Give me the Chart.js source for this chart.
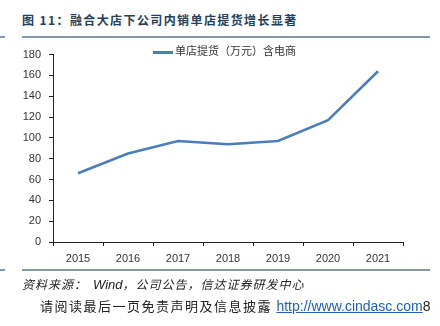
<!DOCTYPE html>
<html>
<head>
<meta charset="utf-8">
<script src="https://cdn.jsdelivr.net/npm/chart.js@4.4.0/dist/chart.umd.min.js"></script>
<style>
  body { margin: 0; width: 440px; height: 326px; background: #fff; position: relative; overflow: hidden;
         font-family: "Liberation Sans", "Noto Sans CJK SC", sans-serif; }
  .rule { position: absolute; height: 1.5px; background: #8497b0; }
  #title { position: absolute; left: 22px; top: 11px; font-size: 12px; font-weight: bold; color: #243f60;
           letter-spacing: 1.4px; font-family: "Noto Sans CJK SC", sans-serif; white-space: nowrap; }
  #wrap { position: absolute; left: 0; top: 40px; width: 420px; height: 230px; }
  #legend { position: absolute; left: 153px; top: 42px; font-size: 11px; color: #333; white-space: nowrap;
            font-family: "Noto Sans CJK SC", sans-serif; }
  #legend span.swatch { display: inline-block; width: 20px; height: 3px; background: #4a7ebb; vertical-align: middle; margin-right: 2px; }
  #source { position: absolute; left: 22px; top: 275px; font-size: 12px; color: #222; font-style: italic; white-space: nowrap;
            letter-spacing: 1px; font-family: "Noto Sans CJK SC", sans-serif; }
  #source b { font-family: "Liberation Sans", sans-serif; font-weight: normal; font-size: 13px; letter-spacing: 0; margin-left: 6px; }
  #foot { position: absolute; left: 40px; top: 296px; font-size: 13px; color: #222; white-space: nowrap;
          letter-spacing: 1.5px; font-family: "Noto Sans CJK SC", sans-serif; }
  #foot a { color: #1f5fbf; text-decoration: underline; font-family: "Liberation Sans", sans-serif; font-size: 14px; letter-spacing: 0; }
  #foot .n { font-family: "Liberation Sans", sans-serif; font-size: 14px; letter-spacing: 0; }
</style>
</head>
<body>
<div class="rule" style="left:0;top:36px;width:5px"></div>
<div class="rule" style="left:22px;top:36px;width:408px"></div>
<div id="title">图 11：融合大店下公司内销单店提货增长显著</div>
<div id="wrap"><canvas id="c"></canvas></div>
<div id="legend"><span class="swatch"></span>单店提货（万元）含电商</div>
<div class="rule" style="left:0;top:269px;width:5px"></div>
<div class="rule" style="left:22px;top:269px;width:408px"></div>
<div id="source">资料来源：<b>Wind</b>，公司公告，信达证券研发中心</div>
<div id="foot">请阅读最后一页免责声明及信息披露 <a>http://www.cindasc.com</a><span class="n">8</span></div>
<script>
const years = ['2015', '2016', '2017', '2018', '2019', '2020', '2021'];
const storeDelivery = [66, 85, 97, 94, 97, 117, 164];
const seriesName = '单店提货（万元）含电商';

new Chart(document.getElementById('c'), {
  type: 'line',
  data: {
    labels: years,
    datasets: [{
      label: seriesName,
      data: storeDelivery,
      borderColor: '#4a7ebb',
      borderWidth: 2.5,
      pointRadius: 0,
      tension: 0,
      fill: false
    }]
  },
  options: {
    responsive: true,
    maintainAspectRatio: false,
    animation: false,
    layout: { padding: { top: 13, right: 17, left: 0, bottom: 0 } },
    plugins: { legend: { display: false }, tooltip: { enabled: false } },
    scales: {
      x: {
        offset: true,
        grid: { offset: true, drawOnChartArea: false, drawTicks: true, tickLength: 4, color: '#222' },
        border: { display: true, color: '#222', width: 1 },
        ticks: { color: '#333', font: { family: 'Liberation Sans', size: 11 }, padding: 6, maxRotation: 0 },
        afterFit: s => { s.height = 28; }
      },
      y: {
        min: 0, max: 180,
        ticks: { stepSize: 20, color: '#333', font: { family: 'Liberation Sans', size: 11 }, padding: 8 },
        grid: { drawOnChartArea: false, drawTicks: true, tickLength: 4, color: '#222' },
        border: { display: true, color: '#222', width: 1 },
        afterFit: s => { s.width = 53; }
      }
    }
  }
});
</script>
</body>
</html>
